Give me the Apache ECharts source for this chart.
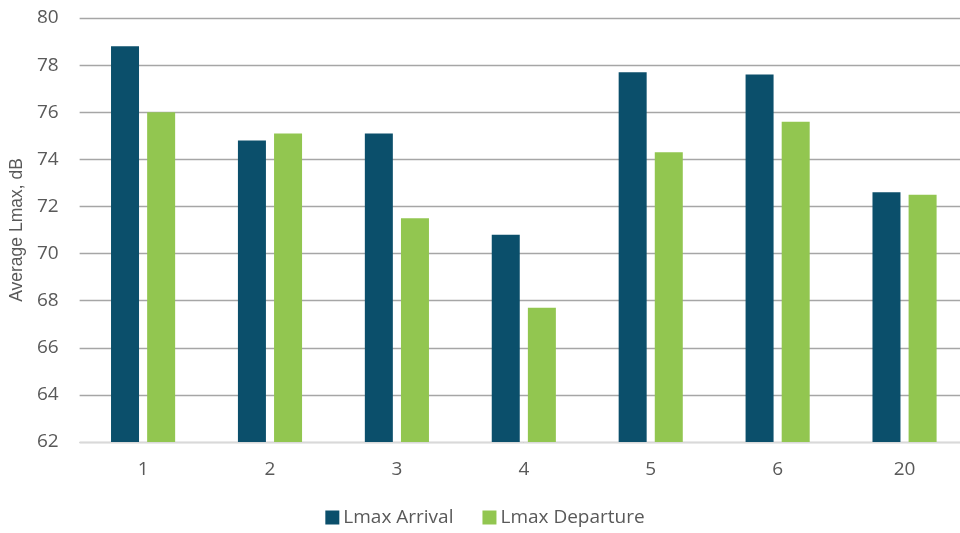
<!DOCTYPE html>
<html><head><meta charset="utf-8">
<script src="https://cdn.jsdelivr.net/npm/echarts@6/dist/echarts.min.js"></script>
<style>html,body{margin:0;padding:0;background:#fff;overflow:hidden;width:960px;height:533px}#c{width:970px;height:533px}</style>
</head><body><div id="c"></div>
<script>
const categories = ['1','2','3','4','5','6','20'];
const arrival = [78.8, 74.8, 75.1, 70.8, 77.7, 77.6, 72.6];
const departure = [76.0, 75.1, 71.5, 67.7, 74.3, 75.6, 72.5];
const seriesNames = ['Lmax Arrival','Lmax Departure'];
const yTitle = 'Average Lmax, dB';

const chart = echarts.init(document.getElementById('c'), null, {renderer:'canvas'});
const txt = '#595959';
chart.setOption({
  animation:false,
  textStyle:{fontFamily:'Open Sans'},
  grid:{left:78, top:18, width:890, height:424, containLabel:false},
  legend:{
    data:seriesNames, bottom:1, left:'center', icon:'rect', itemWidth:14, itemHeight:14, itemGap:29,
    textStyle:{color:txt, fontSize:19, fontFamily:'Open Sans', padding:[0,0,0,-1]}
  },
  xAxis:{
    type:'category', data:categories,
    axisLine:{lineStyle:{color:'#d9d9d9', width:1}},
    axisTick:{show:false},
    axisLabel:{color:txt, fontSize:19, margin:18, fontFamily:'Open Sans'}
  },
  yAxis:{
    type:'value', min:62, max:80, interval:2,
    name:yTitle, nameLocation:'middle', nameGap:50, nameRotate:90,
    nameTextStyle:{color:txt, fontSize:17.5, fontFamily:'Liberation Sans'},
    axisLine:{show:false}, axisTick:{show:false},
    axisLabel:{color:txt, fontSize:19, margin:21, fontFamily:'Open Sans'},
    splitLine:{lineStyle:{color:'#a6a6a6', width:1.3}}
  },
  series:[
    {name:seriesNames[0], type:'bar', data:arrival, barWidth:28, barGap:'29%', itemStyle:{color:'#0b4f6b'}},
    {name:seriesNames[1], type:'bar', data:departure, barWidth:28, itemStyle:{color:'#92c650'}}
  ]
});
</script></body></html>
